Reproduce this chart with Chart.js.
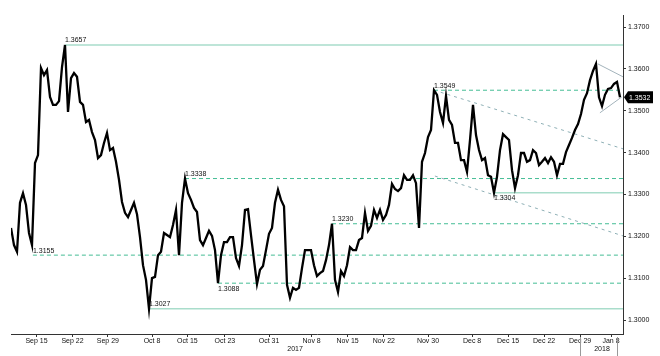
<!DOCTYPE html>
<html><head><meta charset="utf-8">
<script src="https://cdn.jsdelivr.net/npm/chart.js@4.4.1/dist/chart.umd.min.js"></script>
<style>html,body{margin:0;padding:0;background:#fff;}#wrap{width:660px;height:356px;position:relative;}</style>
</head><body><div id="wrap"><canvas id="c" width="660" height="356"></canvas></div>
<script>
// GBP/USD intraday closes, sampled at equal bar steps (Sep 2017 - Jan 2018)
const closes = [
1.3220,1.3179,1.3163,1.3280,1.3303,1.3275,1.3208,1.3179,1.3375,1.3394,
1.3602,1.3585,1.3597,1.3533,1.3514,1.3514,1.3523,1.3604,1.3657,1.3497,
1.3578,1.3590,1.3581,1.3521,1.3514,1.3473,1.3478,1.3449,1.3430,1.3387,
1.3394,1.3423,1.3447,1.3406,1.3411,1.3378,1.3335,1.3282,1.3256,1.3246,
1.3263,1.3280,1.3253,1.3198,1.3131,1.3096,1.3027,1.3100,1.3103,1.3155,
1.3163,1.3208,1.3203,1.3198,1.3227,1.3263,1.3155,1.3280,1.3338,1.3303,
1.3287,1.3268,1.3258,1.3191,1.3179,1.3196,1.3213,1.3201,1.3167,1.3088,
1.3155,1.3186,1.3186,1.3198,1.3198,1.3148,1.3129,1.3179,1.3263,1.3265,
1.3203,1.3143,1.3086,1.3120,1.3129,1.3167,1.3206,1.3220,1.3280,1.3311,
1.3287,1.3272,1.3084,1.3053,1.3077,1.3072,1.3077,1.3124,1.3167,1.3167,
1.3167,1.3131,1.3105,1.3112,1.3117,1.3143,1.3179,1.3230,1.3096,1.3067,
1.3117,1.3105,1.3131,1.3174,1.3167,1.3167,1.3191,1.3196,1.3256,1.3213,
1.3225,1.3263,1.3244,1.3263,1.3239,1.3251,1.3275,1.3325,1.3313,1.3308,
1.3315,1.3346,1.3335,1.3335,1.3346,1.3327,1.3220,1.3378,1.3399,1.3437,
1.3454,1.3549,1.3538,1.3497,1.3471,1.3535,1.3478,1.3466,1.3423,1.3423,
1.3382,1.3382,1.3354,1.3430,1.3514,1.3442,1.3406,1.3382,1.3387,1.3346,
1.3342,1.3304,1.3342,1.3406,1.3444,1.3437,1.3430,1.3358,1.3315,1.3346,
1.3399,1.3399,1.3378,1.3382,1.3406,1.3399,1.3370,1.3378,1.3387,1.3375,
1.3389,1.3378,1.3346,1.3373,1.3373,1.3401,1.3418,1.3435,1.3454,1.3468,
1.3492,1.3526,1.3542,1.3573,1.3595,1.3612,1.3532,1.3511,1.3538,1.3552,
1.3554,1.3564,1.3569,1.3532
];
const tickBars   = [8.5, 20.5, 32.3, 47, 58.8, 71.3, 86, 100.2, 112.2, 124.3, 139, 153.7, 165.7, 177.7, 189.7, 200];
const tickLabels = ['Sep 15','Sep 22','Sep 29','Oct 8','Oct 15','Oct 23','Oct 31','Nov 8','Nov 15','Nov 22','Nov 30','Dec 8','Dec 15','Dec 22','Dec 29','Jan 8'];
const yearBars   = [94.7, 197];
const yearLabels = ['2017','2018'];
const yearSpan2018 = [189.7, 202];
const priceTicks = [1.30, 1.31, 1.32, 1.33, 1.34, 1.35, 1.36, 1.37];

const levelValues    = [1.3657, 1.3549, 1.3338, 1.3304, 1.3230, 1.3155, 1.3088, 1.3027];
const levelStartBars = [18, 141, 58, 161, 107, 7.3, 69, 46];
const levelSolid     = [true, false, false, true, false, false, false, true];
const levelLabelBelow= [false, false, false, true, false, false, true, false];

const trendUpperBars = [141, 204],   trendUpperVals = [1.3549, 1.3409];
const trendLowerBars = [141.3, 204], trendLowerVals = [1.3344, 1.3201];
const triTopBars = [195.6, 204],     triTopVals = [1.3612, 1.3581];
const triBotBars = [196.3, 203.6],   triBotVals = [1.3495, 1.3533];

const FONT = "'Liberation Sans Narrow','Liberation Sans',Arial,sans-serif";
const lastBar = closes.length; // axis end

const datasets = [];
datasets.push({
  data: closes.map((v,i)=>({x:i,y:v})),
  borderColor:'#000', borderWidth:2.3, pointRadius:0, tension:0, order:0,
  borderJoinStyle:'miter'
});
levelValues.forEach((v,i)=>{
  datasets.push({
    data:[{x:levelStartBars[i],y:v},{x:lastBar,y:v}],
    borderColor: levelSolid[i] ? '#a9ddcb' : '#45bd95',
    borderWidth: levelSolid[i] ? 1.6 : 1,
    borderDash: levelSolid[i] ? [] : [4,3],
    pointRadius:0, order:2
  });
});
[[trendUpperBars,trendUpperVals],[trendLowerBars,trendLowerVals]].forEach(([b,v])=>{
  datasets.push({data:b.map((x,i)=>({x,y:v[i]})), borderColor:'#8fb0b6', borderWidth:1, borderDash:[3,4], pointRadius:0, order:2});
});
[[triTopBars,triTopVals],[triBotBars,triBotVals]].forEach(([b,v])=>{
  datasets.push({data:b.map((x,i)=>({x,y:v[i]})), borderColor:'#a3b3bb', borderWidth:1, pointRadius:0, order:2});
});

const annot = {
  id:'annot',
  afterDatasetsDraw(chart){
    const {ctx, scales:{x,y}} = chart;
    ctx.save();
    ctx.font = '7px ' + FONT;
    ctx.fillStyle = '#111';
    ctx.textAlign = 'left';
    levelValues.forEach((v,i)=>{
      const px = x.getPixelForValue(levelStartBars[i]);
      const py = y.getPixelForValue(v);
      if (levelLabelBelow[i]) { ctx.textBaseline='top'; ctx.fillText(v.toFixed(4), px, py+2); }
      else { ctx.textBaseline='bottom'; ctx.fillText(v.toFixed(4), px, py-1); }
    });
    // current price tag
    const last = closes[closes.length-1];
    const ty = y.getPixelForValue(last);
    const ax = chart.chartArea.right;
    ctx.fillStyle = '#000';
    ctx.beginPath();
    ctx.moveTo(ax+1, ty);
    ctx.lineTo(ax+5, ty-6);
    ctx.lineTo(ax+30, ty-6);
    ctx.lineTo(ax+30, ty+6);
    ctx.lineTo(ax+5, ty+6);
    ctx.closePath();
    ctx.fill();
    ctx.fillStyle = '#fff';
    ctx.textAlign='left'; ctx.textBaseline='middle';
    ctx.fillText(last.toFixed(4), ax+6, ty+0.5);
    // year labels
    ctx.fillStyle = '#111';
    ctx.textAlign='center'; ctx.textBaseline='middle';
    const by = chart.chartArea.bottom;
    yearBars.forEach((b,i)=>ctx.fillText(yearLabels[i], x.getPixelForValue(b), by+15));
    ctx.strokeStyle='#999'; ctx.lineWidth=1;
    yearSpan2018.forEach(b=>{
      const px = Math.round(x.getPixelForValue(b))+0.5;
      ctx.beginPath(); ctx.moveTo(px, by+3); ctx.lineTo(px, by+22); ctx.stroke();
    });
    ctx.restore();
  }
};

new Chart(document.getElementById('c'), {
  type:'line',
  data:{datasets},
  plugins:[annot],
  options:{
    responsive:false, animation:false, devicePixelRatio:1,
    layout:{padding:{top:15,left:11,right:0,bottom:0}},
    plugins:{legend:{display:false}, tooltip:{enabled:false}},
    scales:{
      x:{
        type:'linear', min:0, max:lastBar,
        afterBuildTicks:(s)=>{ s.ticks = tickBars.map(v=>({value:v})); },
        afterFit:(s)=>{ s.height = 22; },
        ticks:{ autoSkip:false, maxRotation:0, padding:0, color:'#111', font:{size:7, family:FONT},
          callback:(v,i)=>tickLabels[i] },
        grid:{ drawOnChartArea:false, tickLength:3, color:'#333' },
        border:{ display:true, color:'#333', width:1 }
      },
      y:{
        type:'linear', position:'right', min:1.29666, max:1.37287,
        afterBuildTicks:(s)=>{ s.ticks = priceTicks.map(v=>({value:v})); },
        afterFit:(s)=>{ s.width = 37; },
        ticks:{ padding:2, color:'#111', font:{size:7, family:FONT}, callback:(v)=>v.toFixed(4) },
        grid:{ drawOnChartArea:false, tickLength:3, color:'#333' },
        border:{ display:true, color:'#333', width:1 }
      }
    }
  }
});
</script></body></html>
